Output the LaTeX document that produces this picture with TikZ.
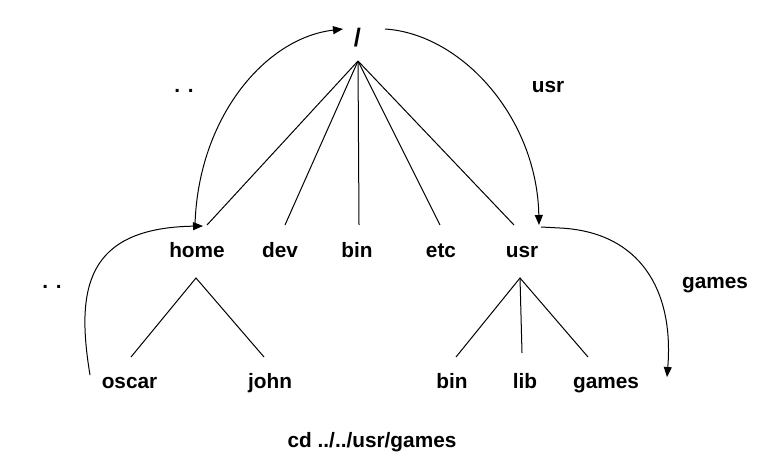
\documentclass[tikz,border=0pt]{standalone}
\usepackage{fontspec}
\setmainfont{Liberation Sans}
\usetikzlibrary{arrows.meta}
\tikzset{
  lbl/.style={inner sep=0pt, anchor=base, font=\bfseries\fontsize{15.6}{18}\selectfont},
  edge/.style={line width=0.75pt, black},
  arc/.style={line width=0.75pt, black, -{Triangle[length=7.5pt,width=6pt]}}
}
\begin{document}
\begin{tikzpicture}[x=0.75pt,y=-0.75pt]
\useasboundingbox (0,0) rectangle (766,471);
% labels
\node[lbl, font=\bfseries\fontsize{19}{22}\selectfont] (root) at (357.5,46) {/};
\node[lbl] (dotsA) at (184,92) {. .};
\node[lbl] (usrA) at (548,92) {usr};
\node[lbl] (home) at (197,257) {home};
\node[lbl] (dev) at (280,257) {dev};
\node[lbl] (bin) at (357,257) {bin};
\node[lbl] (etc) at (441,257) {etc};
\node[lbl] (usr) at (522,257) {usr};
\node[lbl] (dotsB) at (52,288) {. .};
\node[lbl] (gamesA) at (715,288) {games};
\node[lbl] (oscar) at (129.5,388) {oscar};
\node[lbl] (john) at (270,388) {john};
\node[lbl] (ubin) at (452,388) {bin};
\node[lbl] (ulib) at (525,388) {lib};
\node[lbl] (ugames) at (606,388) {games};
\node[lbl] (cmd) at (372,447) {cd ../../usr/games};
% tree anchor points
\coordinate (rp) at (358,61);
\coordinate (homeT) at (207,225);
\coordinate (devT) at (285,225);
\coordinate (binT) at (359,225);
\coordinate (etcT) at (440,225);
\coordinate (usrT) at (514,225);
\coordinate (homeB) at (196,278);
\coordinate (oscarT) at (131,357);
\coordinate (johnT) at (264,357);
\coordinate (usrB) at (520,278);
\coordinate (ubinT) at (456,357);
\coordinate (ulibT) at (522,353);
\coordinate (ugamesT) at (588,357);
% arc end points
\coordinate (aHomeS) at (195,225);
\coordinate (aRootL) at (343,29);
\coordinate (aRootR) at (385,29);
\coordinate (aUsrE) at (539,225);
\coordinate (aUsrS) at (541,227);
\coordinate (aGamesE) at (667,377);
\coordinate (aOscarS) at (90,375);
\coordinate (aHomeE) at (203,226);
% tree edges
\foreach \t in {homeT,devT,binT,etcT,usrT} \draw[edge] (rp) -- (\t);
\draw[edge] (oscarT) -- (homeB) -- (johnT);
\draw[edge] (ubinT) -- (usrB) -- (ugamesT);
\draw[edge] (usrB) -- (ulibT);
% path arcs
\draw[arc] (aHomeS) .. controls (198,118) and (265,38) .. (aRootL);
\draw[arc] (aRootR) .. controls (462,34) and (537,118) .. (aUsrE);
\draw[arc] (aUsrS) -- (560,228) .. controls (640,232) and (674,290) .. (aGamesE);
\draw[arc] (aOscarS) .. controls (76,290) and (85,228) .. (aHomeE);
\end{tikzpicture}
\end{document}
